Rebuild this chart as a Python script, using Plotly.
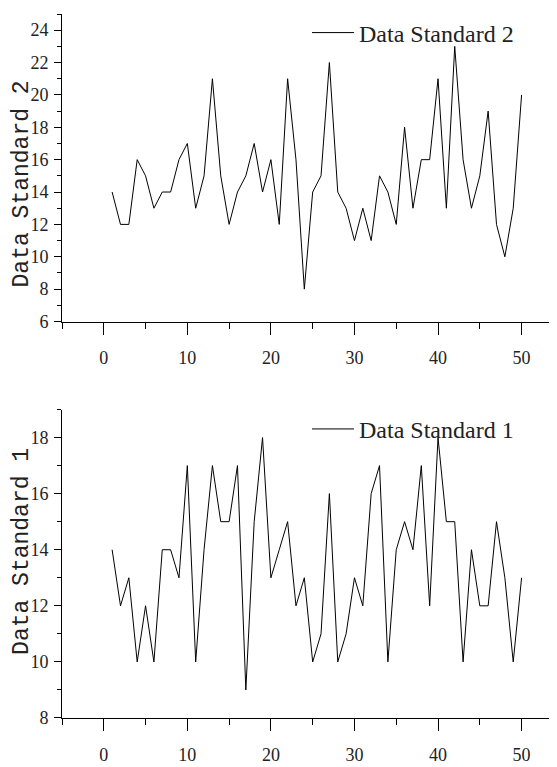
import plotly.graph_objects as go

x = list(range(1, 51))

standard2 = [14, 12, 12, 16, 15, 13, 14, 14, 16, 17, 13, 15, 21, 15, 12, 14, 15, 17, 14, 16,
             12, 21, 16, 8, 14, 15, 22, 14, 13, 11, 13, 11, 15, 14, 12, 18, 13, 16, 16, 21,
             13, 23, 16, 13, 15, 19, 12, 10, 13, 20]
standard1 = [14, 12, 13, 10, 12, 10, 14, 14, 13, 17, 10, 14, 17, 15, 15, 17, 9, 15, 18, 13,
             14, 15, 12, 13, 10, 11, 16, 10, 11, 13, 12, 16, 17, 10, 14, 15, 14, 17, 12, 18,
             15, 15, 10, 14, 12, 12, 15, 13, 10, 13]

tick_font = dict(family="Liberation Serif, serif", size=18, color="#222")
title_font = dict(family="Liberation Mono, monospace", size=23, color="#222")
legend_font = dict(family="Liberation Serif, serif", size=24, color="#222")

fig = go.Figure()
fig.add_trace(go.Scatter(x=x, y=standard2, mode="lines", name="Data Standard 2",
                         line=dict(color="black", width=1), xaxis="x", yaxis="y",
                         legend="legend", showlegend=True))
fig.add_trace(go.Scatter(x=x, y=standard1, mode="lines", name="Data Standard 1",
                         line=dict(color="black", width=1), xaxis="x2", yaxis="y2",
                         legend="legend2", showlegend=True))

xcommon = dict(range=[-5, 54], dtick=10, tick0=0, ticks="outside", ticklen=12,
               tickcolor="black", showline=True, linecolor="black", linewidth=1,
               showgrid=False, zeroline=False, tickfont=tick_font, ticklabelstandoff=8,
               minor=dict(dtick=5, tick0=0, ticks="outside", ticklen=6, tickcolor="black",
                          showgrid=False))
ycommon = dict(dtick=2, ticks="outside", ticklen=7, tickcolor="black", showline=True,
               linecolor="black", linewidth=1, showgrid=False, zeroline=False,
               tickfont=tick_font, ticklabelstandoff=2,
               minor=dict(dtick=1, ticks="outside", ticklen=4, tickcolor="black",
                          showgrid=False))

# page body adds ~8px margin, so the figure is a bit smaller than the window
top_dom = [0.5632, 1.0]
bot_dom = [0.0, 0.4382]

fig.update_layout(
    width=549, height=759,
    margin=dict(l=54, r=2, t=5, b=42),
    paper_bgcolor="white", plot_bgcolor="white",
    showlegend=True,
    xaxis=dict(xcommon, domain=[0, 1], anchor="y"),
    yaxis=dict(ycommon, domain=top_dom, range=[6, 25], tick0=6, anchor="x"),
    xaxis2=dict(xcommon, domain=[0, 1], anchor="y2"),
    yaxis2=dict(ycommon, domain=bot_dom, range=[8, 19], tick0=8, anchor="x2"),
    legend=dict(x=0.497, y=1.005, xanchor="left", yanchor="top", font=legend_font,
                bgcolor="rgba(0,0,0,0)", itemwidth=42, visible=True),
    legend2=dict(x=0.497, y=0.442, xanchor="left", yanchor="top", font=legend_font,
                 bgcolor="rgba(0,0,0,0)", itemwidth=42, visible=True),
    annotations=[
        dict(text="Data Standard 2", xref="paper", yref="paper", x=-0.081, y=0.758,
             xanchor="center", yanchor="middle",
             textangle=-90, showarrow=False, font=title_font),
        dict(text="Data Standard 1", xref="paper", yref="paper", x=-0.081, y=0.236,
             xanchor="center", yanchor="middle",
             textangle=-90, showarrow=False, font=title_font),
    ],
)

fig.write_html("out.html")
